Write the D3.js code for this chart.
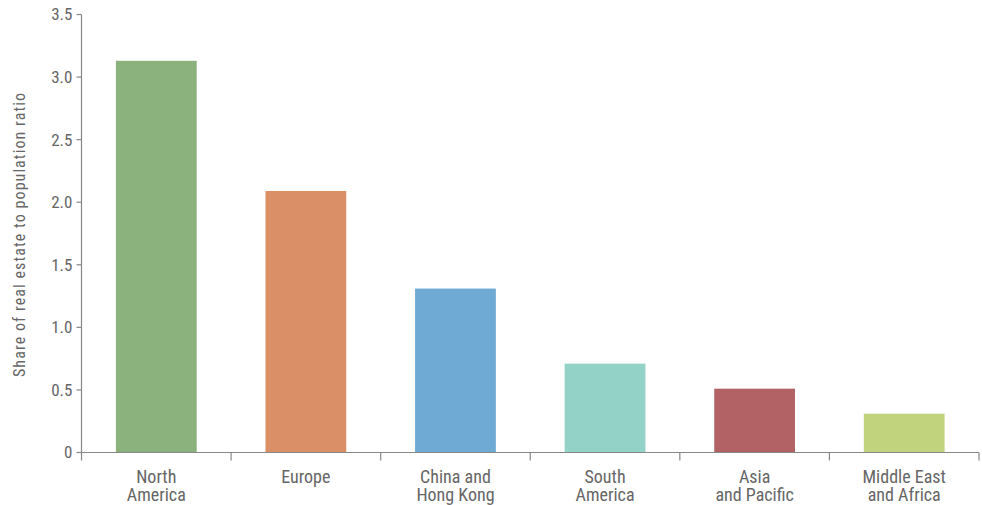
<!DOCTYPE html>
<html><head><meta charset="utf-8">
<script src="https://cdn.jsdelivr.net/npm/d3@7"></script>
<style>
body{margin:0;background:#fff;}
svg text{font-family:"Liberation Sans Narrow","Roboto Condensed",Roboto,sans-serif;fill:#666;}
</style></head>
<body><svg id="c" width="982" height="505"></svg>
<script>
const categories = [["North","America"],["Europe"],["China and","Hong Kong"],["South","America"],["Asia","and Pacific"],["Middle East","and Africa"]];
const values = [3.13, 2.09, 1.31, 0.71, 0.51, 0.31];
const colors = ["#8bb17c","#db8f66","#6eaad3","#93d2c6","#b26265","#c1d37c"];
const yTicks = [0,0.5,1.0,1.5,2.0,2.5,3.0,3.5];
const yTitle = "Share of real estate to population ratio";

const svg = d3.select("#c");
const mL = 81.5, mR = 979, mT = 14.5, mB = 452.5;
const x = d3.scaleBand().domain(d3.range(values.length)).range([mL, mR]).paddingInner(0.46).paddingOuter(0.23);
const xb = d3.scaleBand().domain(d3.range(values.length)).range([mL, mR]);
const y = d3.scaleLinear().domain([0,3.5]).range([mB, mT]);

svg.selectAll("rect.bar").data(values).join("rect")
  .attr("x",(d,i)=>x(i)).attr("width",x.bandwidth())
  .attr("y",d=>y(d)).attr("height",d=>y(0)-y(d))
  .attr("fill",(d,i)=>colors[i]);

// y axis
const ya = svg.append("g");
ya.append("line").attr("x1",mL).attr("x2",mL).attr("y1",mT).attr("y2",mB).attr("stroke","#888").attr("stroke-width",1.2);
ya.selectAll("line.t").data(yTicks).join("line")
  .attr("x1",mL-5).attr("x2",mL).attr("y1",d=>y(d)).attr("y2",d=>y(d)).attr("stroke","#888").attr("stroke-width",1.2);
ya.selectAll("text").data(yTicks).join("text")
  .attr("x",mL-9).attr("y",d=>y(d)).attr("dy","0.35em").attr("text-anchor","end")
  .style("font-size","17px").text(d=>d===0?"0":d.toFixed(1));

// x axis
const xa = svg.append("g");
xa.append("line").attr("x1",mL).attr("x2",mR).attr("y1",mB).attr("y2",mB).attr("stroke","#888").attr("stroke-width",1.2);
const bounds = d3.range(values.length).map(i=>xb(i)).concat([mR]);
xa.selectAll("line.t").data(bounds).join("line")
  .attr("x1",d=>d).attr("x2",d=>d).attr("y1",mB).attr("y2",mB+8).attr("stroke","#888").attr("stroke-width",1.2);
const lab = xa.selectAll("text").data(categories).join("text")
  .attr("text-anchor","middle").style("font-size","18px");
lab.each(function(d,i){
  const t = d3.select(this);
  const cx = xb(i)+xb.bandwidth()/2;
  d.forEach((s,j)=>t.append("tspan").attr("x",cx).attr("y",482.5+j*18.4).text(s));
});

svg.append("text").attr("transform",`translate(24.5,235) rotate(-90)`)
  .attr("text-anchor","middle").style("font-size","16px")
  .attr("textLength",284).attr("lengthAdjust","spacing").text(yTitle);
</script></body></html>
